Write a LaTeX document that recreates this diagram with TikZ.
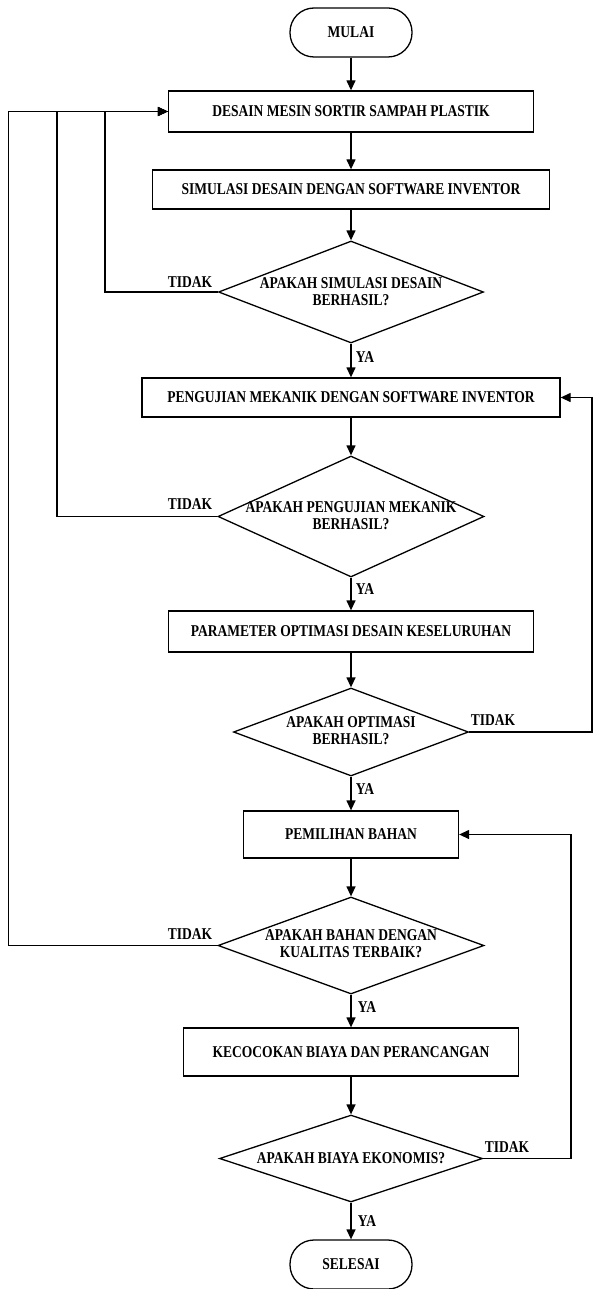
\documentclass[tikz,border=0pt]{standalone}
\usepackage{fontspec}
\newfontfamily\lbl{Liberation Serif}[FakeStretch=0.82]
\usetikzlibrary{shapes.geometric,arrows.meta}
\tikzset{
  txt/.style={font=\lbl\bfseries\fontsize{16.5}{17}\selectfont, align=center, inner sep=0pt},
  procbox/.style={draw, line width=1.3pt, rectangle, inner sep=0pt},
  term/.style={draw, line width=1.3pt, rectangle, rounded corners=24pt, minimum width=122pt, minimum height=49pt, inner sep=0pt},
  dec/.style={draw, line width=1.3pt, diamond, inner sep=0pt, shape aspect=2},
  arr/.style={line width=1.3pt, -{Triangle[length=10pt,width=9pt]}},
  ln/.style={line width=1.3pt}
}
\begin{document}
\begin{tikzpicture}[x=1pt,y=-1pt]
\useasboundingbox (0,0) rectangle (595,1289);
% terminals
\node[term] (mulai) at (351,32.5) {};
\node[txt] (mulait) at (351,32.5) {MULAI};
\node[term] (selesai) at (351,1264.5) {};
\node[txt] (selesait) at (351,1264.5) {SELESAI};
% boxes
\node[procbox, minimum width=365pt, minimum height=41pt] (b1) at (351,111.5) {};
\node[txt] (b1t) at (351,111.5) {DESAIN MESIN SORTIR SAMPAH PLASTIK};
\node[procbox, minimum width=397pt, minimum height=39pt] (b2) at (351,189.5) {};
\node[txt] (b2t) at (351,189.5) {SIMULASI DESAIN DENGAN SOFTWARE INVENTOR};
\node[procbox, minimum width=418pt, minimum height=39pt] (b3) at (351,397.5) {};
\node[txt] (b3t) at (351,397.5) {PENGUJIAN MEKANIK DENGAN SOFTWARE INVENTOR};
\node[procbox, minimum width=365pt, minimum height=41pt] (b4) at (351,631.5) {};
\node[txt] (b4t) at (351,631.5) {PARAMETER OPTIMASI DESAIN KESELURUHAN};
\node[procbox, minimum width=215pt, minimum height=47pt] (b5) at (351,834.5) {};
\node[txt] (b5t) at (351,834.5) {PEMILIHAN BAHAN};
\node[procbox, minimum width=335pt, minimum height=48pt] (b6) at (351,1052) {};
\node[txt] (b6t) at (351,1052) {KECOCOKAN BIAYA DAN PERANCANGAN};
% decisions
\node[dec, minimum width=265pt, minimum height=102pt] (d1) at (351,292) {};
\node[txt] (d1t) at (351,292) {APAKAH SIMULASI DESAIN\\BERHASIL?};
\node[dec, minimum width=266pt, minimum height=121pt] (d2) at (351,516.5) {};
\node[txt] (d2t) at (351,516) {APAKAH PENGUJIAN MEKANIK\\BERHASIL?};
\node[dec, minimum width=235pt, minimum height=88pt] (d3) at (351,732) {};
\node[txt] (d3t) at (351,731) {APAKAH OPTIMASI\\BERHASIL?};
\node[dec, minimum width=266pt, minimum height=97pt] (d4) at (351,945.5) {};
\node[txt] (d4t) at (351,944) {APAKAH BAHAN DENGAN\\KUALITAS TERBAIK?};
\node[dec, minimum width=263pt, minimum height=87pt] (d5) at (351,1158.5) {};
\node[txt] (d5t) at (351,1158.5) {APAKAH BIAYA EKONOMIS?};
% loop coordinates
\coordinate (l1) at (105,0);
\coordinate (l2) at (57,0);
\coordinate (l3) at (8.5,0);
\coordinate (r1) at (592,0);
\coordinate (r2) at (571,0);
% main flow
\draw[arr] (mulai) -- (b1);
\draw[arr] (b1) -- (b2);
\draw[arr] (b2) -- (d1);
\draw[arr] (d1) -- (b3);
\draw[arr] (b3) -- (d2);
\draw[arr] (d2) -- (b4);
\draw[arr] (b4) -- (d3);
\draw[arr] (d3) -- (b5);
\draw[arr] (b5) -- (d4);
\draw[arr] (d4) -- (b6);
\draw[arr] (b6) -- (d5);
\draw[arr] (d5) -- (selesai);
% loops
\draw[arr] (d1.west) -- (d1.west -| l1) |- (b1.west);
\draw[arr] (d2.west) -- (d2.west -| l2) |- (b1.west);
\draw[arr] (d4.west) -- (d4.west -| l3) |- (b1.west);
\draw[arr] (d3.east) -- (d3.east -| r1) |- (b3.east);
\draw[arr] (d5.east) -- (d5.east -| r2) |- (b5.east);
% labels
\node[txt] (t1) at (190,282) {TIDAK};
\node[txt] (t2) at (190,504) {TIDAK};
\node[txt] (t4) at (190,934) {TIDAK};
\node[txt] (t3) at (493,720) {TIDAK};
\node[txt] (t5) at (507,1147) {TIDAK};
\node[txt] (y1) at (365,357) {YA};
\node[txt] (y2) at (365,589) {YA};
\node[txt] (y3) at (365,789) {YA};
\node[txt] (y4) at (367,1007) {YA};
\node[txt] (y5) at (367,1221) {YA};
\end{tikzpicture}
\end{document}
